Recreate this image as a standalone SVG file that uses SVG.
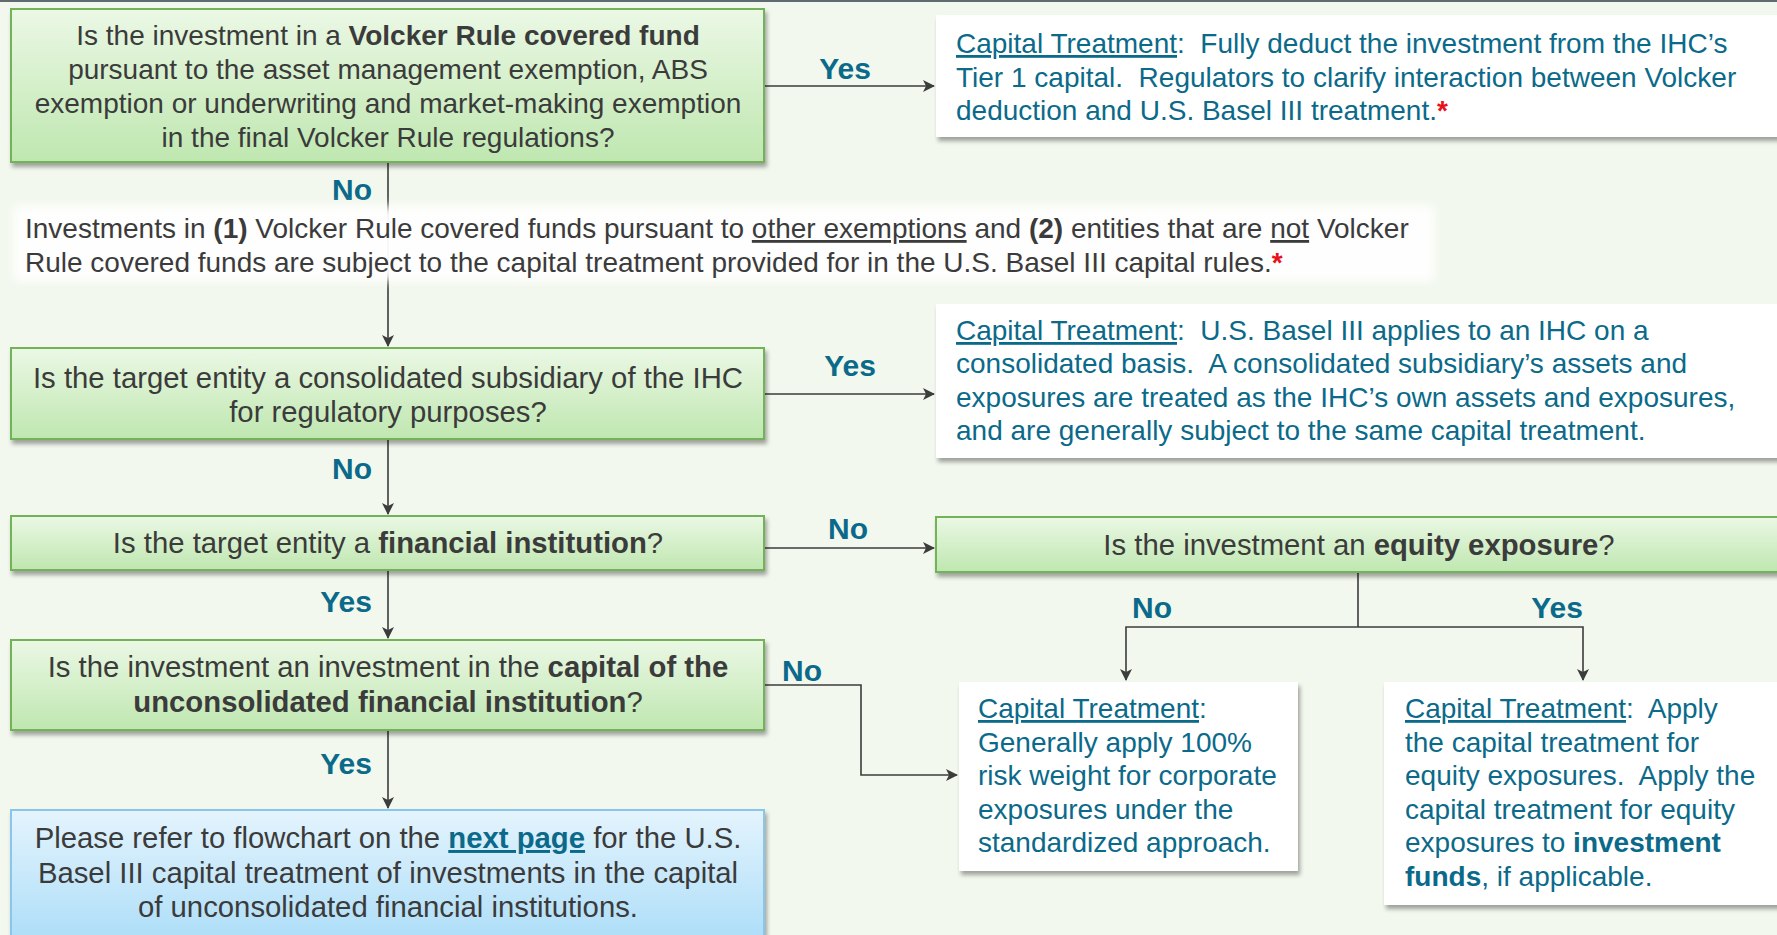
<svg xmlns="http://www.w3.org/2000/svg" width="1777" height="935" viewBox="0 0 1777 935">
<defs>
<linearGradient id="gGreen" x1="0" y1="0" x2="0" y2="1"><stop offset="0" stop-color="#ebf8e5"/><stop offset="1" stop-color="#bfe7b0"/></linearGradient>
<linearGradient id="gBlue" x1="0" y1="0" x2="0" y2="1"><stop offset="0" stop-color="#e4f4fd"/><stop offset="1" stop-color="#a9dcf8"/></linearGradient>
<filter id="shadow" x="-5%" y="-10%" width="115%" height="130%"><feDropShadow dx="2" dy="4" stdDeviation="2" flood-color="#000" flood-opacity="0.35"/></filter>
<filter id="soft" x="-5%" y="-30%" width="110%" height="160%"><feGaussianBlur stdDeviation="5"/></filter>
<marker id="arr" viewBox="0 0 12 12" refX="11" refY="6" markerWidth="12" markerHeight="12" markerUnits="userSpaceOnUse" orient="auto"><path d="M0,0 L12,6 L0,12 L3,6 z" fill="#3c3c3c"/></marker>
<style>
.q{font-family:"Liberation Sans",Arial,sans-serif;font-size:28px;fill:#3b3b3b;}
.q2{font-size:29.3px;}
.t{font-family:"Liberation Sans",Arial,sans-serif;font-size:28px;fill:#0b6a8a;}
.lbl{font-family:"Liberation Sans",Arial,sans-serif;font-size:30px;font-weight:bold;fill:#0b6a8a;}
.b{font-weight:bold;}
.u{text-decoration:underline;}
.red{fill:#e8111b;font-weight:bold;}
.green{fill:url(#gGreen);stroke:#73b358;stroke-width:2;filter:url(#shadow);}
.white{fill:#ffffff;filter:url(#shadow);}
.blue{fill:url(#gBlue);stroke:#8ac6ec;stroke-width:2;filter:url(#shadow);}
.c{fill:none;stroke:#3c3c3c;stroke-width:1.6;}
</style>
</defs>
<rect x="0" y="0" width="1777" height="935" fill="#f2f8ee"/>
<rect x="0" y="0" width="1777" height="2" fill="#5f6b70"/>

<g id="connectors">
<path class="c" d="M764,86 H934" marker-end="url(#arr)"/>
<path class="c" d="M388,162 V346" marker-end="url(#arr)"/>
<path class="c" d="M764,394 H934" marker-end="url(#arr)"/>
<path class="c" d="M388,439 V514" marker-end="url(#arr)"/>
<path class="c" d="M764,548 H934" marker-end="url(#arr)"/>
<path class="c" d="M388,570 V638" marker-end="url(#arr)"/>
<path class="c" d="M764,685 H861 V775 H957" marker-end="url(#arr)"/>
<path class="c" d="M388,730 V808" marker-end="url(#arr)"/>
<path class="c" d="M1358,572 V627"/>
<path class="c" d="M1358,627 H1126 V680" marker-end="url(#arr)"/>
<path class="c" d="M1358,627 H1583 V680" marker-end="url(#arr)"/>
</g>

<g id="labels">
<text class="lbl" x="372" y="200" text-anchor="end">No</text>
<text class="lbl" x="845" y="79" text-anchor="middle">Yes</text>
<text class="lbl" x="850" y="376" text-anchor="middle">Yes</text>
<text class="lbl" x="372" y="479" text-anchor="end">No</text>
<text class="lbl" x="848" y="539" text-anchor="middle">No</text>
<text class="lbl" x="372" y="612" text-anchor="end">Yes</text>
<text class="lbl" x="802" y="681" text-anchor="middle">No</text>
<text class="lbl" x="372" y="774" text-anchor="end">Yes</text>
<text class="lbl" x="1152" y="618" text-anchor="middle">No</text>
<text class="lbl" x="1557" y="618" text-anchor="middle">Yes</text>
</g>

<g id="q1">
<rect class="green" x="11" y="9" width="753" height="153"/>
<text class="q" x="388" y="45" text-anchor="middle">Is the investment in a <tspan class="b">Volcker Rule covered fund</tspan></text>
<text class="q" x="388" y="79" text-anchor="middle">pursuant to the asset management exemption, ABS</text>
<text class="q" x="388" y="113" text-anchor="middle">exemption or underwriting and market-making exemption</text>
<text class="q" x="388" y="147" text-anchor="middle">in the final Volcker Rule regulations?</text>
</g>

<g id="ct1">
<rect class="white" x="936" y="15" width="860" height="122"/>
<text class="t" x="956" y="53" xml:space="preserve"><tspan class="u">Capital Treatment</tspan>:  Fully deduct the investment from the IHC’s</text>
<text class="t" x="956" y="87" xml:space="preserve">Tier 1 capital.  Regulators to clarify interaction between Volcker</text>
<text class="t" x="956" y="120" xml:space="preserve">deduction and U.S. Basel III treatment.<tspan class="red">*</tspan></text>
</g>

<g id="note">
<rect x="14" y="206" width="1420" height="75" fill="#ffffff" opacity="0.95" filter="url(#soft)"/>
<text class="q" x="25" y="238" xml:space="preserve">Investments in <tspan class="b">(1)</tspan> Volcker Rule covered funds pursuant to <tspan class="u">other exemptions</tspan> and <tspan class="b">(2)</tspan> entities that are <tspan class="u">not</tspan> Volcker</text>
<text class="q" x="25" y="272" xml:space="preserve">Rule covered funds are subject to the capital treatment provided for in the U.S. Basel III capital rules.<tspan class="red">*</tspan></text>
</g>

<g id="q2">
<rect class="green" x="11" y="348" width="753" height="91"/>
<text class="q q2" x="388" y="388" text-anchor="middle">Is the target entity a consolidated subsidiary of the IHC</text>
<text class="q q2" x="388" y="422" text-anchor="middle">for regulatory purposes?</text>
</g>

<g id="ct2">
<rect class="white" x="936" y="304" width="860" height="154"/>
<text class="t" x="956" y="340" xml:space="preserve"><tspan class="u">Capital Treatment</tspan>:  U.S. Basel III applies to an IHC on a</text>
<text class="t" x="956" y="373" xml:space="preserve">consolidated basis.  A consolidated subsidiary’s assets and</text>
<text class="t" x="956" y="407" xml:space="preserve">exposures are treated as the IHC’s own assets and exposures,</text>
<text class="t" x="956" y="440" xml:space="preserve">and are generally subject to the same capital treatment.</text>
</g>

<g id="q3">
<rect class="green" x="11" y="516" width="753" height="54"/>
<text class="q q2" x="388" y="553" text-anchor="middle">Is the target entity a <tspan class="b">financial institution</tspan>?</text>
</g>

<g id="q4">
<rect class="green" x="936" y="517" width="850" height="55"/>
<text class="q q2" x="1359" y="555" text-anchor="middle">Is the investment an <tspan class="b">equity exposure</tspan>?</text>
</g>

<g id="q5">
<rect class="green" x="11" y="640" width="753" height="90"/>
<text class="q q2" x="388" y="677" text-anchor="middle">Is the investment an investment in the <tspan class="b">capital of the</tspan></text>
<text class="q q2" x="388" y="712" text-anchor="middle"><tspan class="b">unconsolidated financial institution</tspan>?</text>
</g>

<g id="ref">
<rect class="blue" x="11" y="810" width="753" height="140"/>
<text class="q q2" x="388" y="848" text-anchor="middle">Please refer to flowchart on the <tspan class="b u" fill="#0b6a8a">next page</tspan> for the U.S.</text>
<text class="q q2" x="388" y="883" text-anchor="middle">Basel III capital treatment of investments in the capital</text>
<text class="q q2" x="388" y="917" text-anchor="middle">of unconsolidated financial institutions.</text>
</g>

<g id="ct3">
<rect class="white" x="959" y="682" width="339" height="189"/>
<text class="t" x="978" y="718"><tspan class="u">Capital Treatment</tspan>:</text>
<text class="t" x="978" y="752">Generally apply 100%</text>
<text class="t" x="978" y="785">risk weight for corporate</text>
<text class="t" x="978" y="819">exposures under the</text>
<text class="t" x="978" y="852">standardized approach.</text>
</g>

<g id="ct4">
<rect class="white" x="1384" y="682" width="410" height="223"/>
<text class="t" x="1405" y="718" xml:space="preserve"><tspan class="u">Capital Treatment</tspan>:  Apply</text>
<text class="t" x="1405" y="752">the capital treatment for</text>
<text class="t" x="1405" y="785" xml:space="preserve">equity exposures.  Apply the</text>
<text class="t" x="1405" y="819">capital treatment for equity</text>
<text class="t" x="1405" y="852">exposures to <tspan class="b">investment</tspan></text>
<text class="t" x="1405" y="886"><tspan class="b">funds</tspan>, if applicable.</text>
</g>
</svg>
